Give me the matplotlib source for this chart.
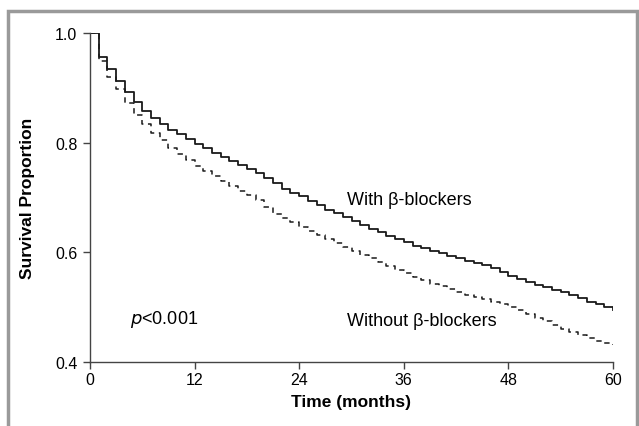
import matplotlib
matplotlib.use("Agg")
import matplotlib.pyplot as plt
from matplotlib.lines import Line2D

months = list(range(0, 61))
with_bb = [1.000, 0.956, 0.934, 0.912, 0.892, 0.875, 0.858, 0.845, 0.834, 0.824,
           0.815, 0.806, 0.798, 0.790, 0.782, 0.774, 0.767, 0.759, 0.752, 0.744,
           0.736, 0.727, 0.716, 0.709, 0.702, 0.694, 0.686, 0.678, 0.671, 0.664,
           0.657, 0.650, 0.643, 0.637, 0.630, 0.624, 0.618, 0.612, 0.607, 0.602,
           0.598, 0.593, 0.589, 0.585, 0.581, 0.577, 0.572, 0.565, 0.557, 0.551,
           0.546, 0.541, 0.536, 0.532, 0.527, 0.522, 0.516, 0.510, 0.505, 0.500,
           0.494]
without_bb = [1.000, 0.949, 0.920, 0.898, 0.872, 0.850, 0.834, 0.818, 0.804, 0.791,
              0.779, 0.768, 0.758, 0.748, 0.739, 0.730, 0.721, 0.712, 0.704, 0.696,
              0.683, 0.670, 0.662, 0.655, 0.647, 0.639, 0.631, 0.624, 0.617, 0.610,
              0.603, 0.596, 0.589, 0.582, 0.575, 0.568, 0.562, 0.555, 0.549, 0.543,
              0.538, 0.533, 0.528, 0.523, 0.518, 0.514, 0.510, 0.506, 0.501, 0.494,
              0.487, 0.480, 0.474, 0.468, 0.461, 0.455, 0.449, 0.443, 0.438, 0.434,
              0.431]
xticks = [0, 12, 24, 36, 48, 60]
yticks = [0.4, 0.6, 0.8, 1.0]
ytick_labels = ["0.4", "0.6", "0.8", "1.0"]

plt.rcParams['font.family'] = ['Liberation Sans', 'DejaVu Sans']

W, H = 639, 427
fig = plt.figure(figsize=(W/100, H/100), dpi=100)
ax = fig.add_axes([90/W, 1-363/H, (613-90)/W, (363-34)/H])

ax.step(months, with_bb, where='post', color='#1a1a1a', lw=1.3)
ax.step(months, without_bb, where='post', color='#1a1a1a', lw=1.1, linestyle=(0, (3.5, 3)))

ax.set_xlim(0, 60)
ax.set_ylim(0.4, 1.0)
ax.set_xticks(xticks)
ax.set_yticks(yticks)
ax.set_yticklabels(ytick_labels)
for s in ['top', 'right']:
    ax.spines[s].set_visible(False)
for s in ['left', 'bottom']:
    ax.spines[s].set_color('#444444')
    ax.spines[s].set_linewidth(1.0)
ax.tick_params(direction='out', length=5, width=1.0, color='#444444', labelsize=11.5)
ax.tick_params(axis='y', pad=4)
ax.tick_params(axis='x', pad=2)

fig.text((90+613)/2/W, 1-403/H, 'Time (months)', fontsize=12.5, fontweight='bold',
         ha='center', va='center')
fig.text(28/W, 1-198/H, 'Survival Proportion', fontsize=12.5, fontweight='bold',
         ha='center', va='center', rotation=90)

ax.text(29.5, 0.696, 'With β-blockers', fontsize=13, va='center', ha='left')
ax.text(29.5, 0.475, 'Without β-blockers', fontsize=13, va='center', ha='left')
ax.text(4.6, 0.479, r'$p$<0.001', fontsize=13, va='center', ha='left')

x0, x1 = 8/W, 637/W
ytop = 1 - 12/H
fig.add_artist(Line2D([x0, x0, x1, x1], [0, ytop, ytop, 0], transform=fig.transFigure,
                      color='#9a9a9a', lw=2.5, solid_joinstyle='miter'))

fig.savefig('out.png', dpi=100)
